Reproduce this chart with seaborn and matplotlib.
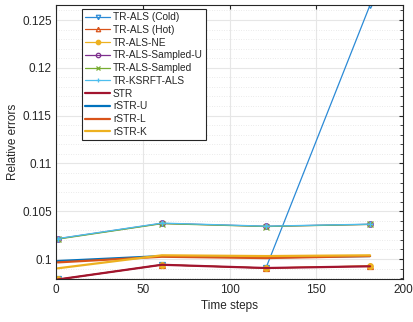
import matplotlib
matplotlib.use("Agg")
import matplotlib.pyplot as plt
import seaborn as sns
import pandas as pd
from matplotlib.ticker import MultipleLocator, NullLocator, FuncFormatter

sns.set_style("white")
plt.rcParams['font.family'] = ['Liberation Sans', 'DejaVu Sans']

time_steps = [1, 61, 121, 181]
tr_als_cold = [0.09786, 0.09940, 0.09906, 0.12657]
tr_als_hot = [0.09786, 0.09940, 0.09906, 0.09927]
tr_als_ne = [0.09786, 0.09940, 0.09906, 0.09927]
tr_als_sampled_u = [0.10212, 0.10373, 0.10342, 0.10363]
tr_als_sampled = [0.10208, 0.10370, 0.10340, 0.10362]
tr_ksrft_als = [0.10214, 0.10376, 0.10344, 0.10365]
str_vals = [0.09786, 0.09940, 0.09906, 0.09924]
rstr_u = [0.09979, 0.10031, 0.10018, 0.10031]
rstr_l = [0.09965, 0.10024, 0.10010, 0.10031]
rstr_k = [0.09903, 0.10039, 0.10031, 0.10039]

series = [
    ("TR-ALS (Cold)", tr_als_cold, "#2b8ad6", "v", "none", 0.9),
    ("TR-ALS (Hot)", tr_als_hot, "#D95319", "^", "none", 0.9),
    ("TR-ALS-NE", tr_als_ne, "#EDB120", "o", "#EDB120", 0.9),
    ("TR-ALS-Sampled-U", tr_als_sampled_u, "#7E2F8E", "o", "none", 0.9),
    ("TR-ALS-Sampled", tr_als_sampled, "#77AC30", "x", "none", 0.9),
    ("TR-KSRFT-ALS", tr_ksrft_als, "#4DBEEE", "+", "none", 0.9),
    ("STR", str_vals, "#A2142F", None, "none", 1.6),
    ("rSTR-U", rstr_u, "#0072BD", None, "none", 1.6),
    ("rSTR-L", rstr_l, "#D95319", None, "none", 1.6),
    ("rSTR-K", rstr_k, "#EDB120", None, "none", 1.6),
]

fig = plt.figure(figsize=(4.13, 3.22), dpi=100)
ax = fig.add_axes([0.1356, 0.132, 0.8402, 0.8525])

for name, vals, color, marker, mfc, lw in series:
    df = pd.DataFrame({"t": time_steps, "v": vals})
    kw = {}
    if marker is not None:
        kw = dict(marker=marker, markersize=4, markerfacecolor=(color if mfc != "none" else "none"),
                  markeredgecolor=color, markeredgewidth=0.9)
    sns.lineplot(data=df, x="t", y="v", ax=ax, color=color, linewidth=lw, label=name, **kw)

ax.set_xlim(0, 200)
ax.set_ylim(0.09786, 0.12657)
ax.xaxis.set_major_locator(MultipleLocator(50))
ax.xaxis.set_minor_locator(NullLocator())
ax.yaxis.set_major_locator(MultipleLocator(0.005))
ax.yaxis.set_minor_locator(MultipleLocator(0.001))
ax.yaxis.set_major_formatter(FuncFormatter(lambda v, p: f"{v:g}"))
ax.grid(True, which="major", color="#e6e6e6", linewidth=0.8)
ax.grid(True, which="minor", axis="y", color="#d8d8d8", linestyle=(0, (1, 2.5)), linewidth=0.5)
ax.set_axisbelow(True)
ax.tick_params(which="both", direction="in", top=True, right=True, labelsize=8.5, colors="#262626",
               length=3, pad=3)
ax.tick_params(which="minor", length=2)
for s in ax.spines.values():
    s.set_color("#262626")
    s.set_linewidth(0.8)
ax.set_xlabel("Time steps", fontsize=8.5, color="#262626", labelpad=3)
ax.set_ylabel("Relative errors", fontsize=8.5, color="#262626", labelpad=2)

leg = ax.legend(loc="upper left", bbox_to_anchor=(0.075, 0.985), fontsize=7.3, frameon=True,
                fancybox=False, edgecolor="#262626", framealpha=1, handlelength=2.5,
                handletextpad=0.25, borderpad=0.3, labelspacing=0.27, borderaxespad=0,
                markerscale=0.8)
leg.get_frame().set_linewidth(0.8)

fig.savefig("out.png", dpi=100)
